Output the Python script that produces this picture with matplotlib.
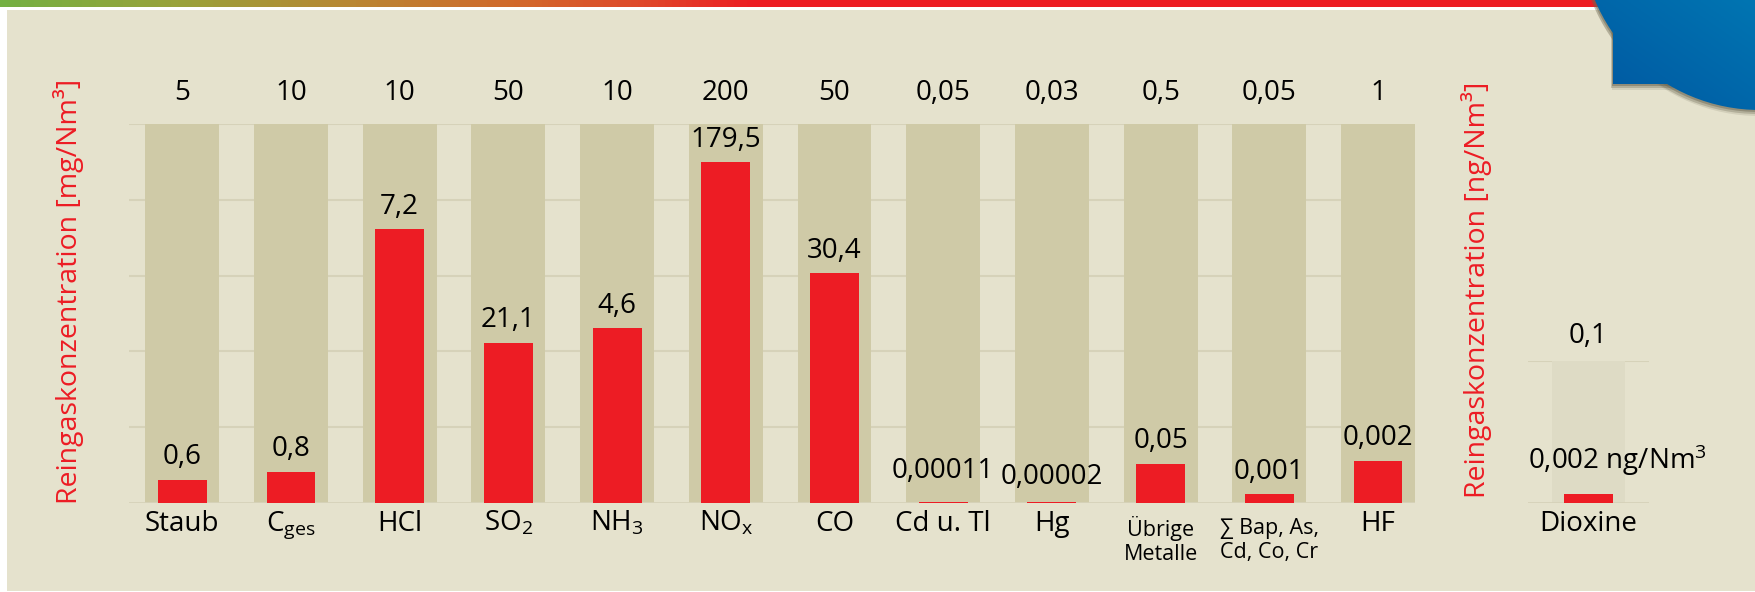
import matplotlib.pyplot as plt
import numpy as np
from matplotlib.colors import LinearSegmentedColormap
from matplotlib.patches import Circle, Rectangle

plt.rcParams["font.family"] = ["Open Sans", "DejaVu Sans"]
plt.rcParams["mathtext.fontset"] = "custom"
plt.rcParams["mathtext.rm"] = "Open Sans"
plt.rcParams["mathtext.it"] = "Open Sans"

# data
categories = [
    "Staub", r"$\mathregular{C_{ges}}$", "HCl", r"$\mathregular{SO_2}$",
    r"$\mathregular{NH_3}$", r"$\mathregular{NO_x}$", "CO", "Cd u. Tl", "Hg",
    "Übrige\nMetalle", "∑ Bap, As,\nCd, Co, Cr", "HF",
]
limit_labels = ["5", "10", "10", "50", "10", "200", "50", "0,05", "0,03", "0,5", "0,05", "1"]
value_labels = ["0,6", "0,8", "7,2", "21,1", "4,6", "179,5", "30,4", "0,00011", "0,00002", "0,05", "0,001", "0,002"]
# bar height as share of the limit, as drawn
shares = [0.062, 0.083, 0.722, 0.423, 0.462, 0.899, 0.607, 0.003, 0.003, 0.104, 0.024, 0.112]

dioxin_limit = 0.1
dioxin_value = 0.0063
dioxin_limit_label = "0,1"
dioxin_value_label = r"0,002 ng/Nm$^{\mathregular{3}}$"

BG = "#e5e2cd"
GREY = "#cfcaa7"
GREY_LIGHT = "#dedbc5"
RED = "#ed1c24"
GRID = "#d6d2b9"

W, H = 1755, 592
fig = plt.figure(figsize=(W / 100, H / 100), dpi=100, facecolor="white")

# page background
bg = fig.add_axes([0, 0, 1, 1], zorder=-10)
bg.axis("off")
bg.add_patch(Rectangle((7, 10), W - 7, H - 11, color=BG, lw=0))

# top colour stripe
stripe = LinearSegmentedColormap.from_list(
    "stripe",
    [(0.0, "#74b043"), (0.1, "#99a23b"), (0.2, "#b98633"), (0.3, "#d3662b"),
     (0.37, "#e0462a"), (0.43, "#ed1c24"), (1.0, "#ed1c24")],
)
bg.imshow(np.linspace(0, 1, 512)[None, :], cmap=stripe, aspect="auto",
          extent=(0, W, 7.5, 0), zorder=1)

# blue corner shape with a soft shadow
cx, cy, r = 1760, -69, 179
rx, rb = 1613, 84
for dx, dy, a in [(-1, 6, 0.15), (-2, 4, 0.3), (-1, 2, 0.45)]:
    bg.add_patch(Circle((cx + dx, cy + dy), r, color="#6b6550", alpha=a, lw=0, zorder=2))
    bg.add_patch(Rectangle((rx + dx, -10), W, rb + dy + 10, color="#6b6550", alpha=a, lw=0, zorder=2))
blue = LinearSegmentedColormap.from_list("blue", ["#0056a0", "#0075b2"])
gx, gy = np.meshgrid(np.linspace(0, 1, 64), np.linspace(0, 1, 64))
for patch in [Circle((cx, cy), r, lw=0, fc="none"),
              Rectangle((rx, -10), W, rb + 10, lw=0, fc="none")]:
    bg.add_patch(patch)
    im = bg.imshow((gx + (1 - gy)) / 2, cmap=blue, aspect="auto",
                   extent=(1590, W, 115, 0), zorder=3)
    im.set_clip_path(patch)
bg.set_xlim(0, W)
bg.set_ylim(H, 0)

# main chart
x = np.arange(len(categories))
ax = fig.add_axes([129 / W, 1 - 503 / H, (1415 - 129) / W, (503 - 124) / H])
ax.set_xlim(-0.49, 11.34)
ax.set_ylim(0, 1)
ax.axis("off")

for g in [0.2, 0.4, 0.6, 0.8, 1.0]:
    ax.axhline(g, color=GRID, lw=1.5, zorder=0)
ax.axhline(0, color=GRID, lw=2, zorder=3)

ax.bar(x, np.ones(len(x)), width=0.68, color=GREY, zorder=1)
ax.bar(x, shares, width=0.45, color=RED, zorder=4)

nudge = {7: 6, 8: 2}
for i, (xi, lim, val, s, cat) in enumerate(zip(x, limit_labels, value_labels, shares, categories)):
    ax.annotate(lim, (xi, 1), xytext=(0, 22), textcoords="offset points",
                ha="center", va="center", fontsize=20)
    ax.annotate(val, (xi, s), xytext=(0, 16 + nudge.get(i, 0)), textcoords="offset points",
                ha="center", va="center", fontsize=20)
    if "\n" in cat:
        ax.annotate(cat, (xi, 0), xytext=(0, -27), textcoords="offset points",
                    ha="center", va="center", fontsize=15.5, linespacing=1.2)
    else:
        ax.annotate(cat, (xi, 0), xytext=(0, -20), textcoords="offset points",
                    ha="center", va="baseline", fontsize=20)

# dioxin panel
ax2 = fig.add_axes([1528 / W, 1 - 503 / H, 121 / W, (503 - 361) / H])
ax2.set_xlim(-0.556, 0.556)
ax2.set_ylim(0, dioxin_limit)
ax2.axis("off")
ax2.axhline(dioxin_limit, color=GRID, lw=1.5, zorder=0)
ax2.axhline(0, color=GRID, lw=2, zorder=3)
ax2.bar([0], [dioxin_limit], width=0.68, color=GREY_LIGHT, zorder=1)
ax2.bar([0], [dioxin_value], width=0.45, color=RED, zorder=4)
ax2.annotate(dioxin_limit_label, (0, dioxin_limit), xytext=(0, 18), textcoords="offset points",
             ha="center", va="center", fontsize=20)
ax2.annotate(dioxin_value_label, (-0.556, dioxin_value), xytext=(0, 24), textcoords="offset points",
             ha="left", va="center", fontsize=20)
ax2.annotate("Dioxine", (0, 0), xytext=(0, -20), textcoords="offset points",
             ha="center", va="baseline", fontsize=20)

# axis titles
fig.text(69 / W, 1 - 291 / H, "Reingaskonzentration [mg/Nm³]", rotation=90,
         ha="center", va="center", color=RED, fontsize=20.5)
fig.text(1477 / W, 1 - 290 / H, "Reingaskonzentration [ng/Nm³]", rotation=90,
         ha="center", va="center", color=RED, fontsize=20.5)

fig.savefig("out.png", dpi=100, facecolor=fig.get_facecolor())
